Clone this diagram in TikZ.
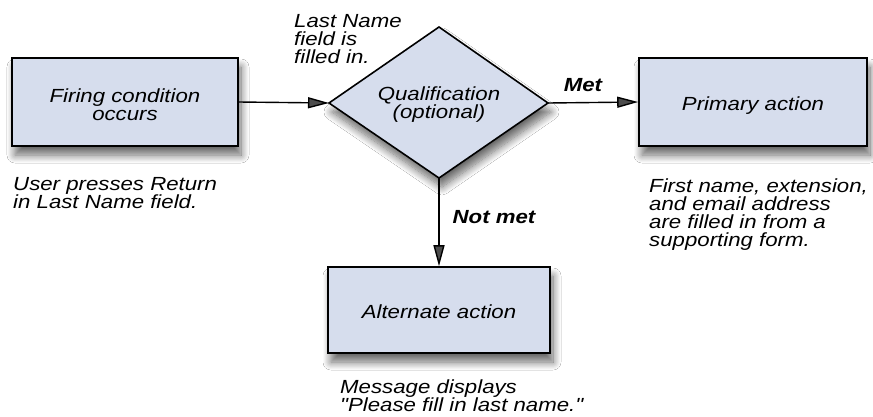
\documentclass[tikz,border=0pt]{standalone}
\usepackage{fontspec}
\newfontfamily\dfont{Liberation Sans}[FakeStretch=1.17]
\usetikzlibrary{arrows.meta,shapes.geometric,shadows.blur}
\definecolor{boxfill}{RGB}{214,221,237}
\tikzset{
  every node/.style={font=\dfont\fontsize{19}{18}\selectfont\itshape},
  softshadow/.style={blur shadow={shadow xshift=3pt, shadow yshift=-9pt,
      shadow blur radius=8pt, shadow blur steps=12, shadow opacity=60}},
  actbox/.style={draw=black, line width=1.6pt, fill=boxfill, minimum width=226pt,
    minimum height=88pt, inner sep=0pt, softshadow},
  boxtext/.style={align=center, inner sep=0pt, anchor=base},
  note/.style={align=left, inner sep=0pt, anchor=base west},
  lbl/.style={inner sep=0pt, anchor=base,
    font=\dfont\fontsize{19}{18}\selectfont\bfseries\itshape},
  flow/.style={line width=1.4pt, -{Triangle[length=21pt,width=11pt]}},
}
\begin{document}
\begin{tikzpicture}[x=1pt,y=-1pt]
\fill[white] (0,0) rectangle (873,416);
\path[use as bounding box] (0,0) rectangle (873,416);

% qualification diamond
\coordinate (dL) at (329,103);
\coordinate (dT) at (439,27);
\coordinate (dR) at (548,103);
\coordinate (dB) at (439,178);
\path[draw=black, line width=1.6pt, fill=boxfill, softshadow]
  (dL) -- (dT) -- (dR) -- (dB) -- cycle;
\node[boxtext] (qual) at (439,118) {Qualification\\(optional)};

% action boxes
\node[actbox] (fire) at (125,102) {};
\node[boxtext] (firetxt) at (125,120) {Firing condition\\occurs};
\node[actbox, minimum width=228pt] (prim) at (753,102) {};
\node[boxtext] (primtxt) at (753,110) {Primary action};
\node[actbox, minimum width=222pt, minimum height=86pt] (alt) at (439,310) {};
\node[boxtext] (alttxt) at (439,318) {Alternate action};

% connectors
\draw[flow] (fire.east) -- (dL);
\draw[flow] (dR) -- (prim.west);
\draw[flow] (dB) -- (alt.north);

% connector labels
\node[lbl] (met) at (583,91) {Met};
\node[lbl] (notmet) at (494,223) {Not met};

% annotations (anchored at the baseline of the last line)
\node[note] (n1) at (13,208) {User presses Return\\in Last Name field.};
\node[note] (n2) at (294,63) {Last Name\\field is\\filled in.};
\node[note] (n3) at (649,246) {First name, extension,\\and email address\\are filled in from a\\supporting form.};
\node[note] (n4) at (340,411) {Message displays\\"Please fill in last name."};
\end{tikzpicture}
\end{document}
